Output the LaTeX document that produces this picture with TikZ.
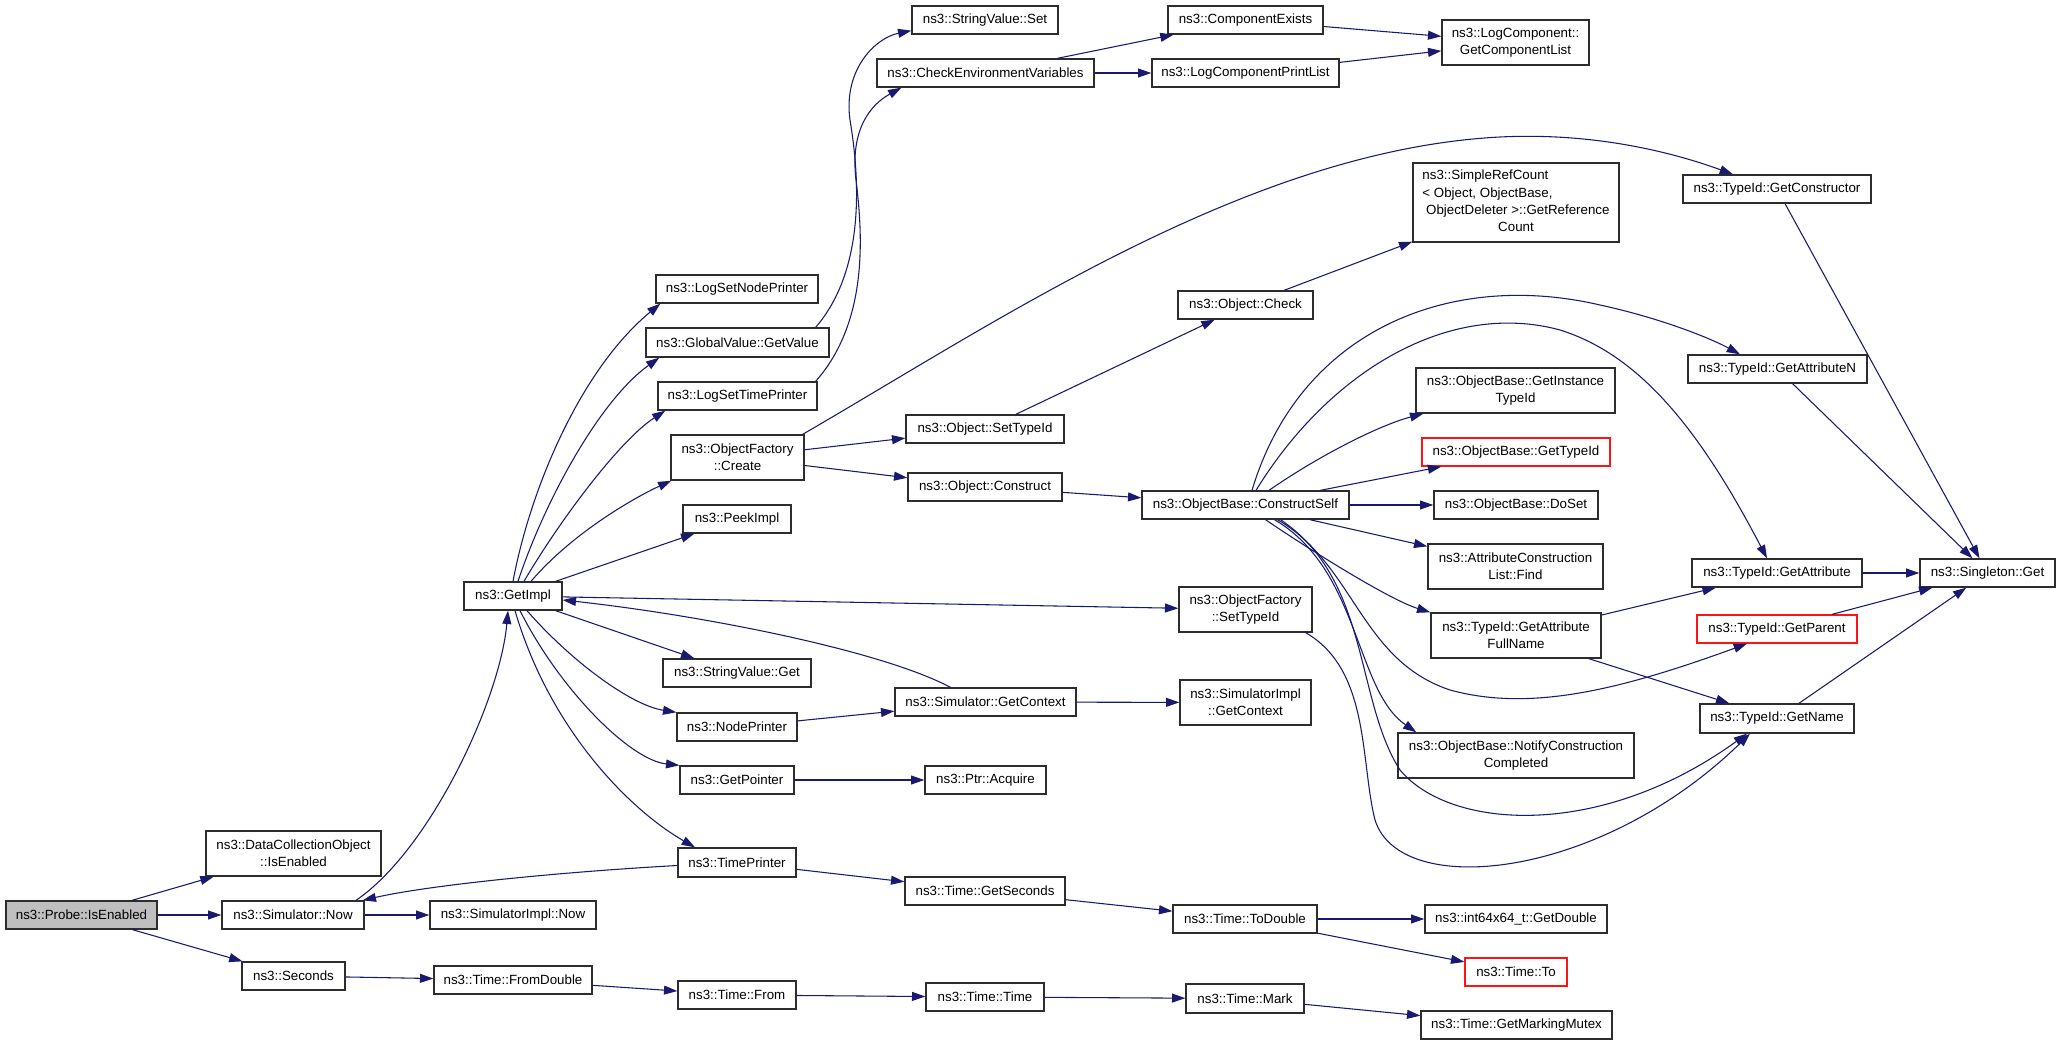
\documentclass[tikz,border=0pt]{standalone}
\usepackage{fontspec}
\setmainfont{Liberation Sans}
\usetikzlibrary{arrows.meta,calc}
\definecolor{edgec}{RGB}{25,25,112}
\definecolor{boxc}{RGB}{45,45,45}
\definecolor{redc}{RGB}{255,20,20}
\definecolor{fillc}{RGB}{191,191,191}
\newcommand\nd[7][]{\node[box,#1,minimum width={(#4-#2)*0.75bp},minimum height={(#5-#3)*0.75bp}] (#6) at ({(#2+#4)/2},{(#3+#5)/2}) {#7};}
\tikzset{
  box/.style={draw=boxc,line width=1bp,inner sep=0pt,align=center,font=\fontsize{10bp}{13bp}\selectfont},
  redbox/.style={draw=redc},
  cg/.style={draw=edgec,line width=0.8bp,-{Triangle[length=10bp,width=6.7bp]}}
}
\begin{document}
\begin{tikzpicture}[x=0.75bp,y=-0.75bp]
\useasboundingbox[fill=white] (0,0) rectangle (2061,1045);
% nodes
\nd[fill=fillc]{6}{901}{157}{929}{probe}{ns3::Probe::IsEnabled}
\nd{206}{831}{381}{876}{dco}{ns3::DataCollectionObject\\::IsEnabled}
\nd{222}{901}{364}{929}{now}{ns3::Simulator::Now}
\nd{242}{962}{345}{990}{seconds}{ns3::Seconds}
\nd{464}{582}{562}{610}{getimpl}{ns3::GetImpl}
\nd{430}{901}{596}{929}{simimplnow}{ns3::SimulatorImpl::Now}
\nd{434}{966}{592}{994}{fromdouble}{ns3::Time::FromDouble}
\nd{656}{275}{818}{303}{lsnp}{ns3::LogSetNodePrinter}
\nd{646}{328}{829}{357}{getvalue}{ns3::GlobalValue::GetValue}
\nd{658}{382}{817}{410}{lstp}{ns3::LogSetTimePrinter}
\nd{671}{435}{804}{480}{ofcreate}{ns3::ObjectFactory\\::Create}
\nd{683}{505}{791}{533}{peekimpl}{ns3::PeekImpl}
\nd{663}{659}{811}{687}{svget}{ns3::StringValue::Get}
\nd{677}{713}{797}{741}{nodeprinter}{ns3::NodePrinter}
\nd{680}{766}{794}{794}{getpointer}{ns3::GetPointer}
\nd{678}{848}{796}{877}{timeprinter}{ns3::TimePrinter}
\nd{678}{981}{796}{1009}{from}{ns3::Time::From}
\nd{912}{6}{1058}{34}{svset}{ns3::StringValue::Set}
\nd{877}{59}{1094}{87}{checkenv}{ns3::CheckEnvironmentVariables}
\nd{906}{415}{1064}{443}{objsettypeid}{ns3::Object::SetTypeId}
\nd{908}{473}{1062}{501}{objconstruct}{ns3::Object::Construct}
\nd{895}{688}{1076}{716}{simgetctx}{ns3::Simulator::GetContext}
\nd{925}{766}{1046}{794}{ptracquire}{ns3::Ptr::Acquire}
\nd{905}{877}{1065}{905}{getseconds}{ns3::Time::GetSeconds}
\nd{926}{983}{1044}{1011}{timetime}{ns3::Time::Time}
\nd{1168}{6}{1323}{34}{compexists}{ns3::ComponentExists}
\nd{1152}{59}{1339}{87}{lcpl}{ns3::LogComponentPrintList}
\nd{1178}{291}{1313}{319}{objcheck}{ns3::Object::Check}
\nd{1142}{491}{1349}{519}{constructself}{ns3::ObjectBase::ConstructSelf}
\nd{1179}{587}{1312}{632}{ofsettypeid}{ns3::ObjectFactory\\::SetTypeId}
\nd{1180}{680}{1311}{725}{simimplgetctx}{ns3::SimulatorImpl\\::GetContext}
\nd{1173}{905}{1317}{933}{todouble}{ns3::Time::ToDouble}
\nd{1186}{984}{1304}{1013}{mark}{ns3::Time::Mark}
\nd{1442}{20}{1589}{65}{getcomplist}{ns3::LogComponent::\\GetComponentList}
\nd{1413}{163}{1619}{242}{simplerefcount}{\begin{tabular}{@{}l@{}}ns3::SimpleRefCount\\< Object, ObjectBase,\\\ ObjectDeleter >::GetReference\\\multicolumn{1}{@{}c@{}}{Count}\end{tabular}}
\nd{1416}{368}{1615}{413}{getinsttypeid}{ns3::ObjectBase::GetInstance\\TypeId}
\nd[redbox]{1422}{438}{1610}{466}{gettypeid}{ns3::ObjectBase::GetTypeId}
\nd{1434}{491}{1598}{519}{doset}{ns3::ObjectBase::DoSet}
\nd{1428}{544}{1603}{589}{acfind}{ns3::AttributeConstruction\\List::Find}
\nd{1431}{613}{1601}{658}{getattrfullname}{ns3::TypeId::GetAttribute\\FullName}
\nd{1398}{733}{1634}{778}{notify}{ns3::ObjectBase::NotifyConstruction\\Completed}
\nd{1425}{905}{1607}{933}{getdouble}{ns3::int64x64\_t::GetDouble}
\nd[redbox]{1465}{958}{1567}{986}{timeto}{ns3::Time::To}
\nd{1421}{1011}{1612}{1039}{markingmutex}{ns3::Time::GetMarkingMutex}
\nd{1683}{175}{1871}{203}{getconstructor}{ns3::TypeId::GetConstructor}
\nd{1688}{355}{1867}{383}{getattrn}{ns3::TypeId::GetAttributeN}
\nd{1692}{559}{1862}{587}{getattr}{ns3::TypeId::GetAttribute}
\nd[redbox]{1697}{615}{1857}{643}{getparent}{ns3::TypeId::GetParent}
\nd{1700}{704}{1854}{733}{getname}{ns3::TypeId::GetName}
\nd{1920}{559}{2055}{587}{singleton}{ns3::Singleton::Get}
% edges
\draw[cg] (probe) -- (dco);
\draw[cg] (probe) -- (now);
\draw[cg] (probe) -- (seconds);
\draw[cg] ($(now.north)+(63,0)$) .. controls (430,850) and (500,700) .. ($(getimpl.south)+(-5,0)$);
\draw[cg] (now) -- (simimplnow);
\draw[cg] ($(getimpl.north)+(0,0)$) .. controls (530,490) and (580,370) .. ($(lsnp.south west)+(5,0)$);
\draw[cg] ($(getimpl.north)+(5,0)$) .. controls (545,500) and (600,400) .. ($(getvalue.south west)+(14,0)$);
\draw[cg] ($(getimpl.north)+(11,0)$) .. controls (560,520) and (620,440) .. ($(lstp.south west)+(8,0)$);
\draw[cg] ($(getimpl.north)+(18,0)$) .. controls (575,530) and (640,495) .. ($(ofcreate.south west)+(1,0)$);
\draw[cg] (getimpl) -- (peekimpl);
\draw[cg] (getimpl) -- (ofsettypeid);
\draw[cg] (getimpl) -- (svget);
\draw[cg] ($(getimpl.south)+(14,0)$) .. controls (570,660) and (630,705) .. (nodeprinter.north west);
\draw[cg] ($(getimpl.south)+(7,0)$) .. controls (560,690) and (630,760) .. (getpointer.north west);
\draw[cg] ($(getimpl.south)+(2,0)$) .. controls (550,730) and (630,810) .. ($(timeprinter.north)+(-42,0)$);
\draw[cg] ($(simgetctx.north)+(-35,0)$) .. controls (880,650) and (700,615) .. ($(getimpl.east)+(0,4)$);
\draw[cg] ($(timeprinter.west)+(0,3)$) .. controls (560,872) and (430,885) .. ($(now.north east)+(-2,0)$);
\draw[cg] (timeprinter) -- (getseconds);
\draw[cg] (nodeprinter) -- (simgetctx);
\draw[cg] (simgetctx) -- (simimplgetctx);
\draw[cg] (getpointer) -- (ptracquire);
\draw[cg] ($(getvalue.north east)+(-14,0)$) .. controls (865,270) and (860,180) .. (850,120) .. controls (843,70) and (875,38) .. ($(svset.south west)+(0,-4)$);
\draw[cg] ($(lstp.north east)+(-2,0)$) .. controls (870,320) and (862,230) .. (856,180) .. controls (850,130) and (870,105) .. ($(checkenv.south west)+(25,0)$);
\draw[cg] (checkenv) -- (compexists);
\draw[cg] (checkenv) -- (lcpl);
\draw[cg] (compexists) -- (getcomplist);
\draw[cg] (lcpl) -- (getcomplist);
\draw[cg] ($(ofcreate.north east)+(-2,0)$) .. controls (1000,320) and (1250,150) .. (1500,137) .. controls (1600,132) and (1680,155) .. ($(getconstructor.north)+(-44,0)$);
\draw[cg] (ofcreate) -- (objsettypeid);
\draw[cg] (ofcreate) -- (objconstruct);
\draw[cg] (objsettypeid) -- (objcheck);
\draw[cg] (objcheck) -- (simplerefcount);
\draw[cg] (objconstruct) -- (constructself);
\draw[cg] ($(constructself.north)+(6.5,0)$) .. controls (1300,330) and (1450,270) .. (1600,305) .. controls (1660,318) and (1710,338) .. ($(getattrn.north)+(-37.5,0)$);
\draw[cg] ($(constructself.north)+(10.5,0)$) .. controls (1330,370) and (1450,300) .. (1560,330) .. controls (1640,355) and (1700,430) .. ($(getattr.north)+(-10,0)$);
\draw[cg] ($(constructself.north)+(23.5,0)$) .. controls (1320,455) and (1380,425) .. ($(getinsttypeid.south west)+(8,0)$);
\draw[cg] (constructself) -- (gettypeid);
\draw[cg] (constructself) -- (doset);
\draw[cg] (constructself) -- (acfind);
\draw[cg] ($(constructself.south)+(20,0)$) .. controls (1310,550) and (1390,600) .. (getattrfullname.north west);
\draw[cg] ($(constructself.south)+(29,0)$) .. controls (1360,570) and (1355,690) .. ($(notify.north west)+(19,0)$);
\draw[cg] ($(constructself.south)+(32,0)$) .. controls (1355,565) and (1360,660) .. (1450,690) .. controls (1530,712) and (1620,690) .. ($(getparent.south)+(-30,0)$);
\draw[cg] ($(constructself.south)+(35,0)$) .. controls (1370,580) and (1355,700) .. (1400,770) .. controls (1450,830) and (1600,840) .. ($(getname.south)+(-30,0)$);
\draw[cg] ($(ofsettypeid.south east)+(-7,0)$) .. controls (1370,670) and (1360,760) .. (1375,820) .. controls (1400,900) and (1600,880) .. ($(getname.south)+(-27,0)$);
\draw[cg] (getattrfullname) -- (getattr);
\draw[cg] (getattrfullname) -- (getname);
\draw[cg] (getattrn) -- (singleton);
\draw[cg] (getconstructor) -- (singleton);
\draw[cg] (getattr) -- (singleton);
\draw[cg] (getparent) -- (singleton);
\draw[cg] (getname) -- (singleton);
\draw[cg] (getseconds) -- (todouble);
\draw[cg] (todouble) -- (getdouble);
\draw[cg] (todouble) -- (timeto);
\draw[cg] (seconds) -- (fromdouble);
\draw[cg] (fromdouble) -- (from);
\draw[cg] (from) -- (timetime);
\draw[cg] (timetime) -- (mark);
\draw[cg] (mark) -- (markingmutex);
\end{tikzpicture}
\end{document}
